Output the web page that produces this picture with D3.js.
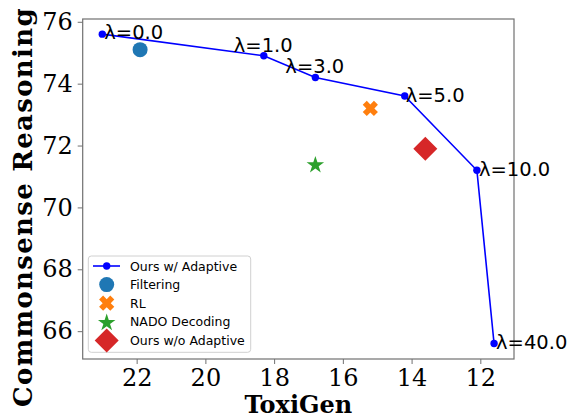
<!DOCTYPE html>
<html>
<head>
<meta charset="utf-8">
<script src="https://cdn.jsdelivr.net/npm/d3@7"></script>
<style>
  html, body { margin: 0; padding: 0; background: #fff; }
  svg { display: block; }
</style>
</head>
<body>
<svg id="chart" width="570" height="416"></svg>
<script>
// ---- data ----
const lambdaLabels = ["λ=0.0", "λ=1.0", "λ=3.0", "λ=5.0", "λ=10.0", "λ=40.0"];
const adaptiveToxi = [23.0, 18.3, 16.8, 14.2, 12.1, 11.6];
const adaptiveCS   = [75.6, 74.9, 74.2, 73.6, 71.2, 65.6];

const baselineNames = ["Filtering", "RL", "NADO Decoding", "Ours w/o Adaptive"];
const baselineToxi  = [21.9, 15.2, 16.8, 13.6];
const baselineCS    = [75.1, 73.2, 71.4, 71.9];

const xTicks = [22, 20, 18, 16, 14, 12];
const yTicks = [66, 68, 70, 72, 74, 76];
const xDomain = [23.57, 11.02];
const yDomain = [65.1, 76.09];

// label offsets (px) relative to each point
const labelOffsets = [[2, 5], [-30, -4], [-30, -4], [1, 6], [2, 5.5], [2, 5.5]];

// ---- styles ----
const baselineColors = ["#1f77b4", "#ff7f0e", "#2ca02c", "#d62728"];
const baselineShapes = ["circle", "X", "star", "diamond"];
const spineColor = "#707070";

const svg = d3.select("#chart");
const margin = {left: 82.7, right: 514, top: 19, bottom: 359};

const x = d3.scaleLinear().domain(xDomain).range([margin.left, margin.right]);
const y = d3.scaleLinear().domain(yDomain).range([margin.bottom, margin.top]);

// marker path generator
function shapePath(shape) {
  if (shape === "circle") {
    const r = 7.5;
    return `M${r},0A${r},${r} 0 1,1 ${-r},0A${r},${r} 0 1,1 ${r},0Z`;
  }
  if (shape === "diamond") {
    const r = 12;
    return `M0,${-r}L${r},0L0,${r}L${-r},0Z`;
  }
  if (shape === "star") {
    const R = 9.2, ri = R * 0.382;
    const pts = [];
    for (let i = 0; i < 10; i++) {
      const rr = i % 2 === 0 ? R : ri;
      const a = -Math.PI / 2 + i * Math.PI / 5;
      pts.push([rr * Math.cos(a), rr * Math.sin(a) + 1]);
    }
    return "M" + pts.map(p => p.join(",")).join("L") + "Z";
  }
  if (shape === "X") {
    const s = 7.9, w = 0.36;
    const plus = [[w,w],[1,w],[1,-w],[w,-w],[w,-1],[-w,-1],[-w,-w],[-1,-w],[-1,w],[-w,w],[-w,1],[w,1]];
    const c = Math.SQRT1_2;
    const pts = plus.map(([a,b]) => [s*(a*c - b*c), s*(a*c + b*c)]);
    return "M" + pts.map(p => p.join(",")).join("L") + "Z";
  }
}

// ---- axes ----
const xAxis = d3.axisBottom(x).tickValues(xTicks).tickFormat(d3.format("d")).tickSize(5).tickPadding(5);
const yAxis = d3.axisLeft(y).tickValues(yTicks).tickFormat(d3.format("d")).tickSize(5).tickPadding(5);

const gx = svg.append("g").attr("transform", `translate(0,${margin.bottom})`).call(xAxis);
const gy = svg.append("g").attr("transform", `translate(${margin.left},0)`).call(yAxis);
[gx, gy].forEach(g => {
  g.select(".domain").remove();
  g.selectAll(".tick line").attr("stroke", spineColor).attr("stroke-width", 1);
  g.selectAll(".tick text").attr("fill", "#000")
    .style("font-family", "'DejaVu Serif', serif").style("font-size", "24px");
});

// spines
svg.append("rect")
  .attr("x", margin.left).attr("y", margin.top)
  .attr("width", margin.right - margin.left).attr("height", margin.bottom - margin.top)
  .attr("fill", "none").attr("stroke", spineColor).attr("stroke-width", 1.2);

// axis titles
svg.append("text")
  .attr("x", (margin.left + margin.right) / 2).attr("y", 413)
  .attr("text-anchor", "middle")
  .style("font-family", "'DejaVu Serif', serif").style("font-weight", "bold").style("font-size", "24px")
  .text("ToxiGen");
svg.append("text")
  .attr("transform", `translate(32,207) rotate(-90)`)
  .attr("text-anchor", "middle")
  .style("font-family", "'DejaVu Serif', serif").style("font-weight", "bold").style("font-size", "26px")
  .style("letter-spacing", "1.3px")
  .text("Commonsense Reasoning");

// ---- adaptive line ----
const adaptiveData = adaptiveToxi.map((t, i) => ({t, c: adaptiveCS[i], label: lambdaLabels[i], off: labelOffsets[i]}));
svg.append("path")
  .datum(adaptiveData)
  .attr("d", d3.line().x(d => x(d.t)).y(d => y(d.c)))
  .attr("fill", "none").attr("stroke", "#0000ff").attr("stroke-width", 1.6);
svg.selectAll(".adp").data(adaptiveData).enter().append("circle")
  .attr("cx", d => x(d.t)).attr("cy", d => y(d.c)).attr("r", 3.7).attr("fill", "#0000ff");

// ---- baselines ----
const baseData = baselineNames.map((n, i) => ({n, t: baselineToxi[i], c: baselineCS[i], col: baselineColors[i], shape: baselineShapes[i]}));
svg.selectAll(".base").data(baseData).enter().append("path")
  .attr("transform", d => `translate(${x(d.t)},${y(d.c)})`)
  .attr("d", d => shapePath(d.shape))
  .attr("fill", d => d.col);

// ---- lambda labels ----
svg.selectAll(".lbl").data(adaptiveData).enter().append("text")
  .attr("x", d => x(d.t) + d.off[0]).attr("y", d => y(d.c) + d.off[1])
  .style("font-family", "'DejaVu Sans', sans-serif").style("font-size", "19.5px")
  .text(d => d.label);

// ---- legend ----
const lg = svg.append("g");
lg.append("rect")
  .attr("x", 88.3).attr("y", 256).attr("width", 162.4).attr("height", 96.3)
  .attr("rx", 3).attr("fill", "#fff").attr("fill-opacity", 0.8)
  .attr("stroke", "#d0d0d0").attr("stroke-width", 1);
const legendNames = ["Ours w/ Adaptive"].concat(baselineNames);
const rowY = i => 266 + i * 18.6;
legendNames.forEach((name, i) => {
  const cy = rowY(i);
  if (i === 0) {
    lg.append("line").attr("x1", 93).attr("x2", 120).attr("y1", cy).attr("y2", cy)
      .attr("stroke", "#0000ff").attr("stroke-width", 1.6);
    lg.append("circle").attr("cx", 106.7).attr("cy", cy).attr("r", 3.7).attr("fill", "#0000ff");
  } else {
    const b = baseData[i - 1];
    lg.append("path").attr("transform", `translate(106.7,${cy})`)
      .attr("d", shapePath(b.shape)).attr("fill", b.col);
  }
  lg.append("text").attr("x", 130).attr("y", cy + 4.5)
    .style("font-family", "'DejaVu Sans', sans-serif").style("font-size", "12.5px")
    .text(name);
});
</script>
</body>
</html>
